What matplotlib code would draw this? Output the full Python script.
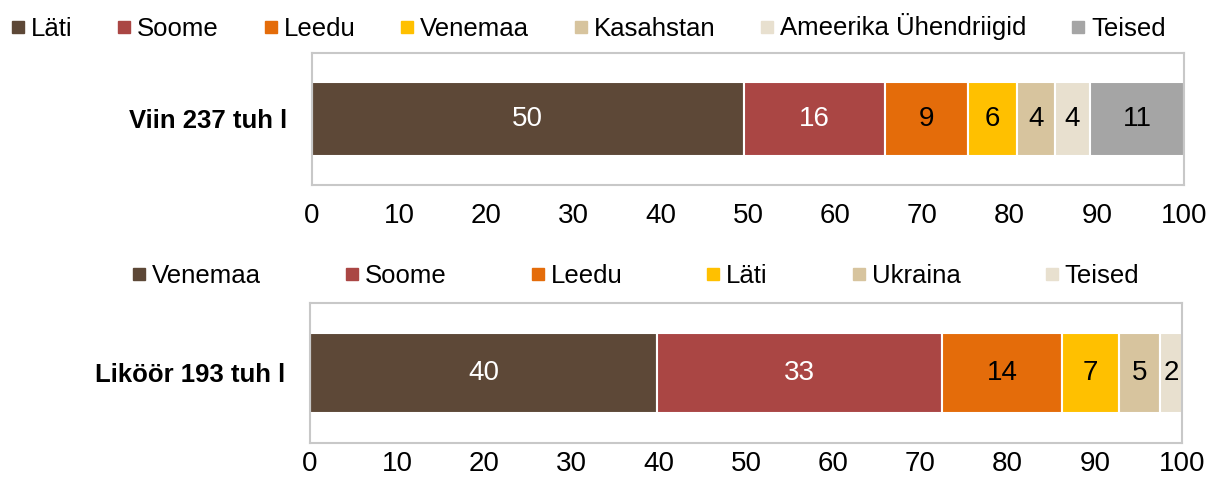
import matplotlib
matplotlib.use('Agg')
import matplotlib.pyplot as plt
from matplotlib.lines import Line2D

plt.rcParams['font.family'] = ['Liberation Sans', 'DejaVu Sans']

# Viin (vodka) export shares, %
viin_label = 'Viin 237 tuh l'
viin_countries = ['Läti', 'Soome', 'Leedu', 'Venemaa', 'Kasahstan', 'Ameerika Ühendriigid', 'Teised']
viin_values = [49.5, 16.2, 9.5, 5.6, 4.4, 4.0, 10.8]
viin_text = ['50', '16', '9', '6', '4', '4', '11']
viin_colors = ['#5D4837', '#AA4644', '#E46C0A', '#FFC000', '#D7C49E', '#E8E0CF', '#A5A5A5']

# Liköör (liqueur) export shares, %
likoor_label = 'Liköör 193 tuh l'
likoor_countries = ['Venemaa', 'Soome', 'Leedu', 'Läti', 'Ukraina', 'Teised']
likoor_values = [39.8, 32.7, 13.7, 6.6, 4.7, 2.5]
likoor_text = ['40', '33', '14', '7', '5', '2']
likoor_colors = ['#5D4837', '#AA4644', '#E46C0A', '#FFC000', '#D7C49E', '#E8E0CF']

ticks = [0, 10, 20, 30, 40, 50, 60, 70, 80, 90, 100]
white_text = ['#5D4837', '#AA4644']

W, H = 1220, 484
fig = plt.figure(figsize=(W / 100, H / 100), dpi=100)


def draw(rect, label, countries, values, texts, colors, leg_x, leg_y, colspace, xpad):
    ax = fig.add_axes([rect[0] / W, 1 - rect[3] / H, (rect[2] - rect[0]) / W, (rect[3] - rect[1]) / H])
    left = 0
    for c, v, t, col in zip(countries, values, texts, colors):
        ax.barh(0, v, left=left, height=0.566, color=col, edgecolor='white', linewidth=1.5)
        ax.text(left + v / 2, 0, t, ha='center', va='center', fontsize=20,
                color='white' if col in white_text else 'black')
        left += v
    ax.set_xlim(0, 100)
    ax.set_ylim(-0.5, 0.5)
    ax.set_xticks(ticks)
    ax.set_xticklabels([str(t) for t in ticks], fontsize=20)
    ax.set_yticks([0])
    ax.set_yticklabels([label], fontsize=18.5, fontweight='bold')
    ax.tick_params(axis='x', length=0, pad=xpad)
    ax.tick_params(axis='y', length=0, pad=18)
    for s in ax.spines.values():
        s.set_color('#C8C8C8')
        s.set_linewidth(1.5)
    handles = [Line2D([], [], marker='s', linestyle='none', markersize=8,
                      markerfacecolor=col, markeredgecolor=col) for col in colors]
    fig.legend(handles, countries, loc='center left', bbox_to_anchor=(leg_x / W, 1 - leg_y / H),
               ncol=len(countries), frameon=False, fontsize=18.5, handlelength=0.6,
               handletextpad=0.2, columnspacing=colspace, borderpad=0, borderaxespad=0)


draw((312, 53, 1184, 185), viin_label, viin_countries, viin_values, viin_text, viin_colors, 10, 27, 1.72, 13)
draw((310, 303, 1182, 443), likoor_label, likoor_countries, likoor_values, likoor_text, likoor_colors, 131, 276, 3.25, 6)

fig.savefig('out.png', dpi=100)
